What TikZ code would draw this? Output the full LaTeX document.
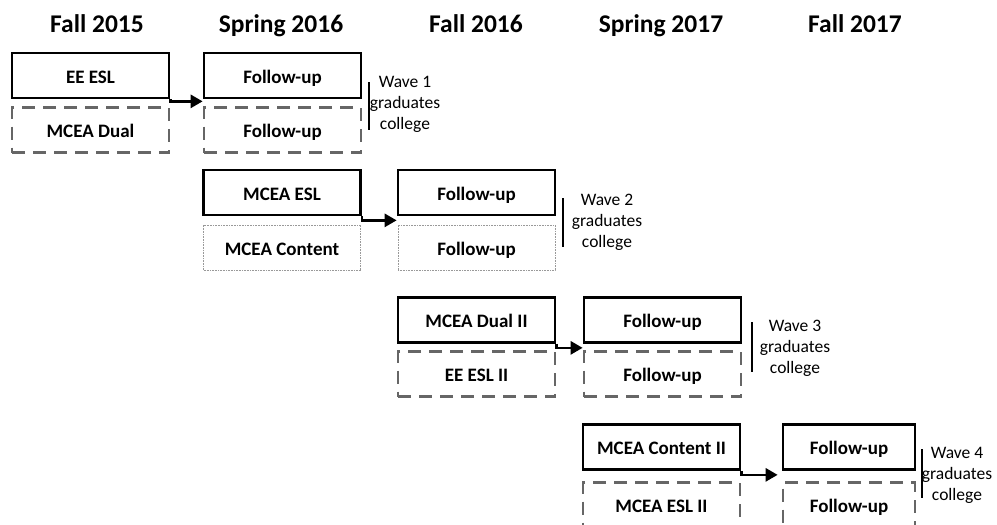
\documentclass[tikz,border=0pt]{standalone}
\usepackage{fontspec}
\setmainfont{Carlito}
\usetikzlibrary{arrows.meta}
\begin{document}
\begin{tikzpicture}[x=1pt,y=-1pt,
  hdr/.style={font=\fontsize{25.5}{28}\selectfont\bfseries, anchor=base},
  boxbase/.style={minimum width=157pt, minimum height=45pt, inner sep=0pt, text height=15pt, text depth=0pt, font=\fontsize{19}{22}\selectfont\bfseries},
  solidbox/.style={boxbase, draw=black, line width=2.7pt},
  dashbox/.style={boxbase, draw=black!60, line width=2.5pt, dash pattern=on 13pt off 8pt},
  dotbox/.style={boxbase, draw=black!40, line width=0.7pt, dash pattern=on 0.8pt off 0.8pt},
  wave/.style={align=center, font=\fontsize{17.5}{21}\selectfont, inner sep=0pt},
  bar/.style={line width=2.7pt},
  arr/.style={line width=2.7pt, -{Triangle[length=12pt,width=13pt]}}
]
\useasboundingbox (0,0) rectangle (997,525);

% headers
\node[hdr] (h1) at (97,32) {Fall 2015};
\node[hdr] (h2) at (281,32) {Spring 2016};
\node[hdr] (h3) at (476,32) {Fall 2016};
\node[hdr] (h4) at (661,32) {Spring 2017};
\node[hdr] (h5) at (855,32) {Fall 2017};

% row 1
\node[solidbox] (a1) at (90.5,75.5) {EE ESL};
\node[dashbox] (a2) at (90.5,130) {MCEA Dual};
\node[solidbox] (b1) at (282.5,75.5) {Follow-up};
\node[dashbox] (b2) at (282.5,130) {Follow-up};
\draw[arr] (a1.south east) |- ([yshift=-2pt]b1.south west);
\draw[bar] (369,82) -- (369,130);
\node[wave] (w1) at (405,104) {Wave 1\\graduates\\college};

% row 2
\node[solidbox] (c1) at (282,192.5) {MCEA ESL};
\node[dotbox] (c2) at (282,247.5) {MCEA Content};
\node[solidbox] (d1) at (476.5,192.5) {Follow-up};
\node[dotbox] (d2) at (476.5,247.5) {Follow-up};
\draw[arr] (c1.south east) |- ([yshift=-4pt]d1.south west);
\draw[bar] (563,198) -- (563,247);
\node[wave] (w2) at (607,222) {Wave 2\\graduates\\college};

% row 3
\node[solidbox] (e1) at (476.5,320) {MCEA Dual II};
\node[dashbox] (e2) at (476.5,374) {EE ESL II};
\node[solidbox] (f1) at (662.5,320) {Follow-up};
\node[dashbox] (f2) at (662.5,374) {Follow-up};
\draw[arr] (e1.south east) |- ([yshift=-4pt]f1.south west);
\draw[bar] (752,322) -- (752,372);
\node[wave] (w3) at (795,348) {Wave 3\\graduates\\college};

% row 4
\node[solidbox] (g1) at (661.5,447) {MCEA Content II};
\node[dashbox] (g2) at (661.5,505) {MCEA ESL II};
\node[solidbox, minimum width=132pt] (k1) at (849,447) {Follow-up};
\node[dashbox, minimum width=132pt] (k2) at (849,505) {Follow-up};
\draw[arr] (g1.south east) |- ([yshift=-4pt,xshift=-4pt]k1.south west);
\draw[bar] (922,449) -- (922,498);
\node[wave] (w4) at (957,475) {Wave 4\\graduates\\college};
\end{tikzpicture}
\end{document}
